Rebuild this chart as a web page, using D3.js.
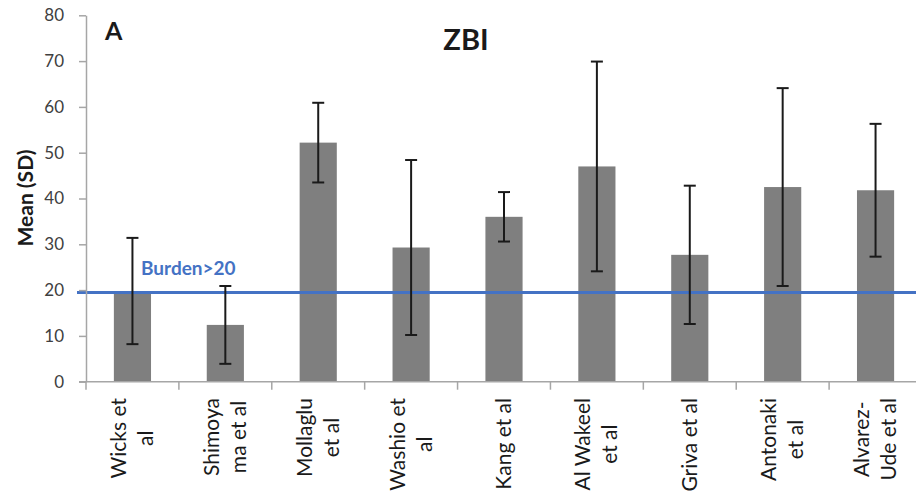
<!DOCTYPE html>
<html>
<head>
<meta charset="utf-8">
<script src="https://cdn.jsdelivr.net/npm/d3@7"></script>
<style>
  html, body { margin: 0; padding: 0; background: #fff; }
  svg { display: block; font-family: Lato, "Open Sans", sans-serif; }
</style>
</head>
<body>
<svg id="chart" width="916" height="491"></svg>
<script>
// ---- data ----
const studies = ["Wicks et al", "Shimoyama et al", "Mollaglu et al", "Washio et al", "Kang et al",
                 "Al Wakeel et al", "Griva et al", "Antonaki et al", "Alvarez-Ude et al"];
const labelLines = [["Wicks et", "al"], ["Shimoya", "ma et al"], ["Mollaglu", "et al"], ["Washio et", "al"],
                    ["Kang et al"], ["Al Wakeel", "et al"], ["Griva et al"], ["Antonaki", "et al"], ["Alvarez-", "Ude et al"]];
const means = [19.8, 12.4, 52.2, 29.3, 36.0, 47.0, 27.7, 42.5, 41.8];
const sds   = [11.6, 8.5, 8.7, 19.1, 5.4, 22.9, 15.1, 21.6, 14.5];
const yTicks = [0, 10, 20, 30, 40, 50, 60, 70, 80];
const burdenThreshold = 19.5;
const chartTitle = "ZBI";
const panelLetter = "A";
const yTitle = "Mean (SD)";
const thresholdLabel = "Burden>20";

// ---- layout ----
const svg = d3.select("#chart");
const x = d3.scaleBand().domain(studies).range([86, 922]).paddingInner(0.6).paddingOuter(0.3);
const xEdge = d3.scaleBand().domain(studies).range([86, 922]).padding(0);
const y = d3.scaleLinear().domain([0, 80]).range([381.7, 15.3]);
const axisColor = "#a6a6a6";

// bars
svg.append("g").selectAll("rect").data(studies).join("rect")
  .attr("x", d => x(d)).attr("width", x.bandwidth())
  .attr("y", (d, i) => y(means[i])).attr("height", (d, i) => y(0) - y(means[i]))
  .attr("fill", "#7f7f7f");

// threshold line
svg.append("line")
  .attr("x1", 77).attr("x2", 916)
  .attr("y1", y(burdenThreshold)).attr("y2", y(burdenThreshold))
  .attr("stroke", "#4472c4").attr("stroke-width", 3);

// error bars
const eb = svg.append("g").attr("stroke", "#1a1a1a").attr("stroke-width", 2);
studies.forEach((d, i) => {
  const cx = x(d) + x.bandwidth() / 2;
  const top = y(means[i] + sds[i]), bot = y(means[i] - sds[i]);
  eb.append("line").attr("x1", cx).attr("x2", cx).attr("y1", top).attr("y2", bot);
  eb.append("line").attr("x1", cx - 6).attr("x2", cx + 6).attr("y1", top).attr("y2", top);
  eb.append("line").attr("x1", cx - 6).attr("x2", cx + 6).attr("y1", bot).attr("y2", bot);
});

// y axis
const yAxis = d3.axisLeft(y).tickValues(yTicks).tickSize(7).tickPadding(15).tickSizeOuter(0);
const gy = svg.append("g").attr("transform", "translate(86,0)").call(yAxis);
gy.select(".domain").attr("stroke", axisColor).attr("stroke-width", 1.5);
gy.selectAll(".tick line").attr("stroke", axisColor).attr("stroke-width", 1.5);
gy.selectAll(".tick text").attr("fill", "#404040").attr("font-size", 17).attr("font-family", "Lato");

// x axis line
svg.append("line").attr("x1", 79).attr("x2", 916).attr("y1", y(0)).attr("y2", y(0))
  .attr("stroke", axisColor).attr("stroke-width", 1.5);
// category ticks (boundaries)
svg.append("g").selectAll("line").data(studies).join("line")
  .attr("x1", d => xEdge(d)).attr("x2", d => xEdge(d))
  .attr("y1", y(0)).attr("y2", y(0) + 8)
  .attr("stroke", axisColor).attr("stroke-width", 1.5);

// x labels: lines centred on each other, block starting just below the axis
const lineH = 27;
studies.forEach((d, i) => {
  const cx = xEdge(d) + xEdge.bandwidth() / 2;
  const lines = labelLines[i];
  const n = lines.length;
  const g = svg.append("g");
  const t = g.append("text")
    .attr("text-anchor", "middle")
    .attr("font-size", 21).attr("fill", "#1a1a1a");
  lines.forEach((ln, j) => {
    const off = (j - (n - 1) / 2) * lineH + 7;
    t.append("tspan").attr("x", 0).attr("y", off).text(ln);
  });
  let maxLen = 0;
  t.selectAll("tspan").each(function () { maxLen = Math.max(maxLen, this.getComputedTextLength()); });
  g.attr("transform", `translate(${cx},${398 + maxLen / 2}) rotate(-90)`);
});

// y title
svg.append("text")
  .attr("transform", "translate(33,198) rotate(-90)")
  .attr("text-anchor", "middle").attr("font-weight", "bold").attr("font-size", 21)
  .attr("fill", "#1a1a1a").text(yTitle);

// chart title
svg.append("text").attr("x", 466).attr("y", 50).attr("text-anchor", "middle")
  .attr("font-weight", "bold").attr("font-size", 29).attr("fill", "#1a1a1a").text(chartTitle);

// panel letter
svg.append("text").attr("x", 105).attr("y", 40)
  .attr("font-weight", "bold").attr("font-size", 25).attr("fill", "#1a1a1a").text(panelLetter);

// threshold label
svg.append("text").attr("x", 141).attr("y", 275)
  .attr("font-weight", "bold").attr("font-size", 19).attr("fill", "#4472c4").text(thresholdLabel);
</script>
</body>
</html>
